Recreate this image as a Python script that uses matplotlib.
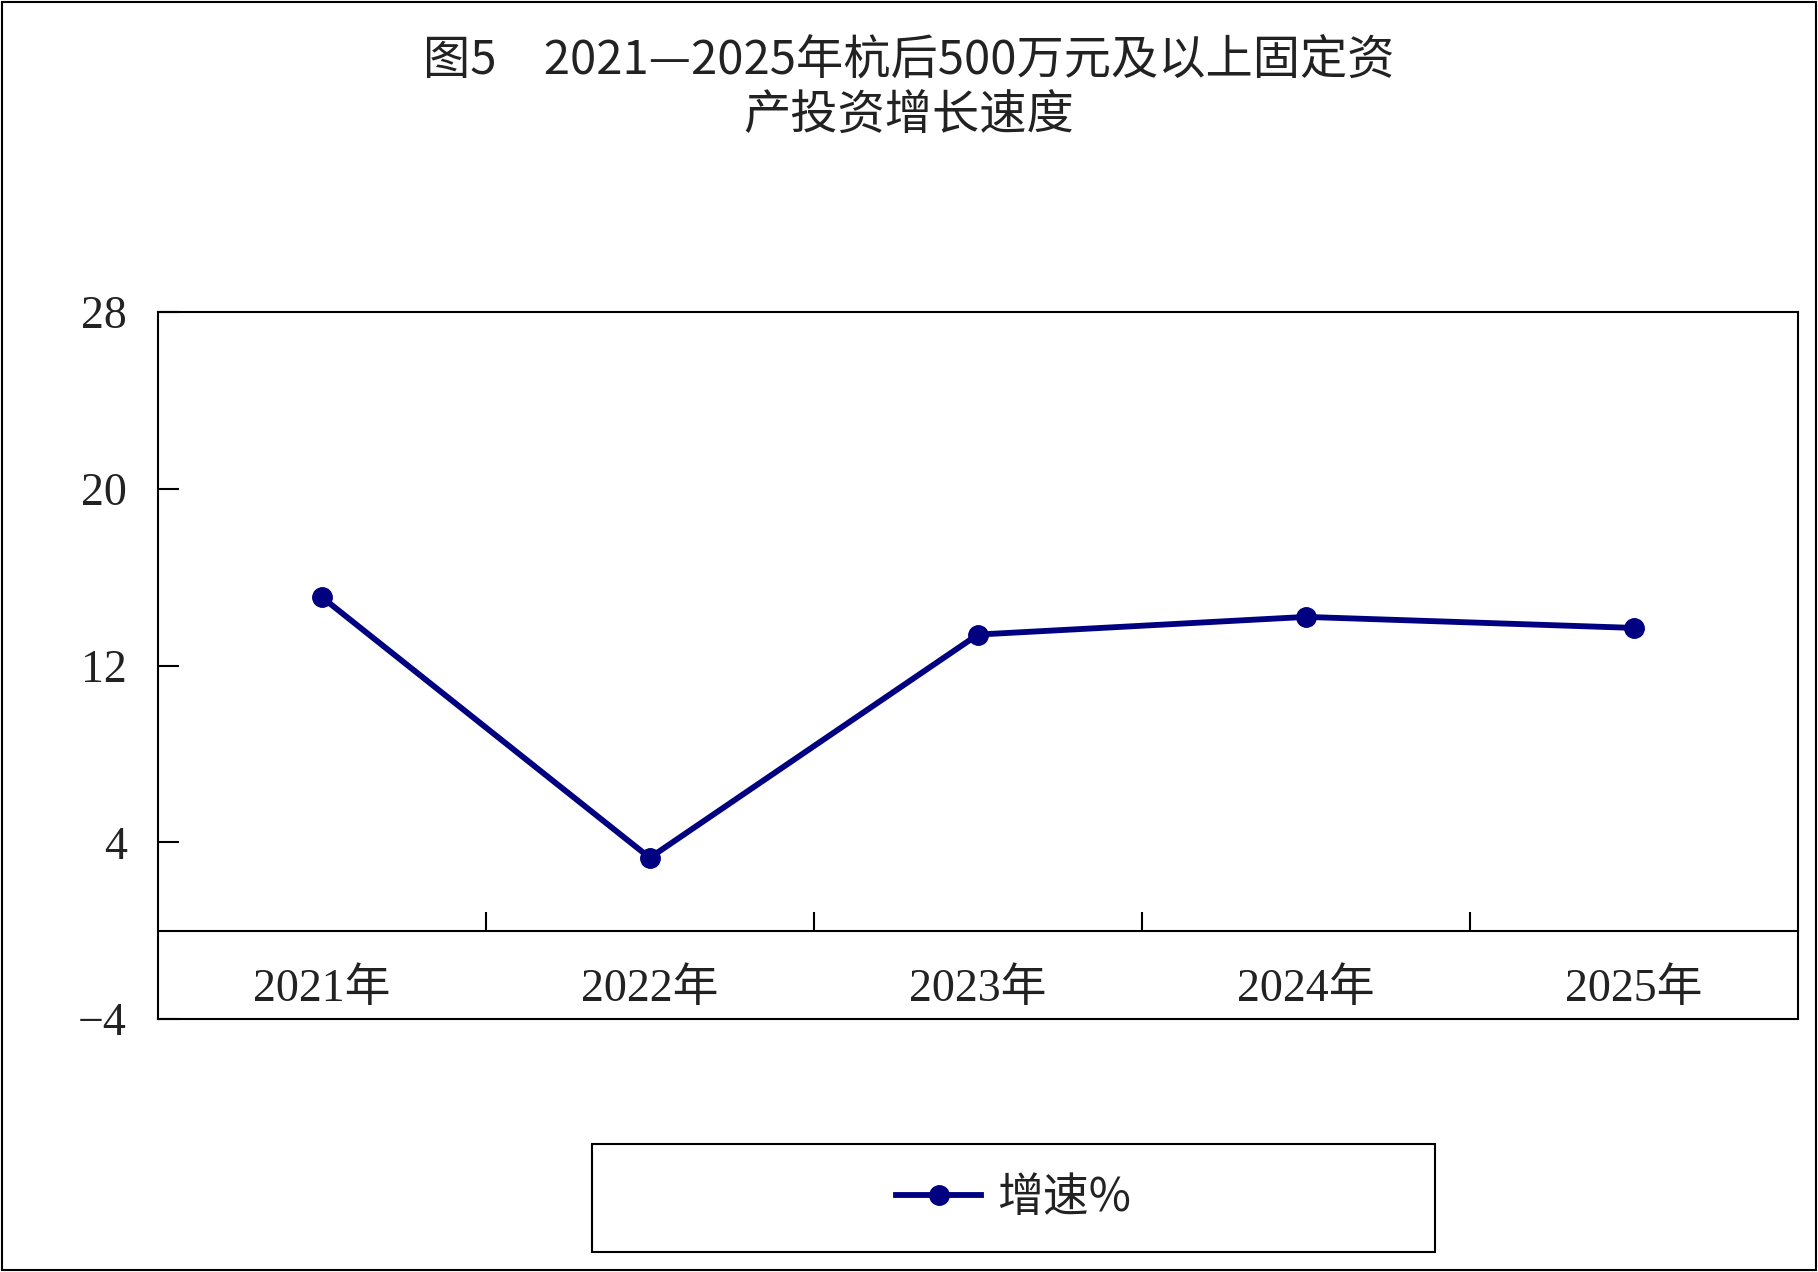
import matplotlib
matplotlib.use("Agg")
import matplotlib.pyplot as plt
from matplotlib.patches import Rectangle

plt.rcParams['font.family'] = ['Liberation Serif', 'Noto Sans CJK SC', 'DejaVu Sans']

categories = ["2021年", "2022年", "2023年", "2024年", "2025年"]
growth = [15.1, 3.3, 13.4, 14.2, 13.7]
yticks = [-4, 4, 12, 20, 28]
series_name = "增速%"
title1 = "图5　2021—2025年杭后500万元及以上固定资"
title2 = "产投资增长速度"

navy = "#000080"
txt = "#222222"
FS = 33

fig = plt.figure(figsize=(18.18, 12.72), dpi=100)
ax = fig.add_axes([0.0867, 0.1988, 0.9891 - 0.0867, 0.7548 - 0.1988])

x = list(range(len(categories)))
line, = ax.plot(x, growth, color=navy, lw=4.2, marker='o', ms=14,
                markerfacecolor=navy, markeredgecolor=navy, label=series_name,
                solid_joinstyle='round')

ax.set_xlim(-0.5, len(categories) - 0.5)
ax.set_ylim(yticks[0], yticks[-1])
ax.set_yticks(yticks)
ax.set_yticklabels([str(v).replace('-', '−') for v in yticks])
ax.tick_params(axis='y', direction='in', length=15, width=1.5, pad=22,
               labelsize=FS, labelcolor=txt)
ax.tick_params(axis='x', bottom=False, labelbottom=False)
for s in ax.spines.values():
    s.set_linewidth(1.5)
    s.set_color('black')

# zero line axis with category labels
loc0 = (0 - yticks[0]) / (yticks[-1] - yticks[0])
sec = ax.secondary_xaxis(loc0)
sec.spines['bottom'].set_linewidth(1.5)
sec.set_xticks(x)
sec.set_xticklabels(categories)
sec.set_xticks([i + 0.5 for i in x[:-1]], minor=True)
sec.tick_params(which='major', length=0, pad=27, labelsize=FS, labelcolor=txt)
sec.tick_params(which='minor', direction='in', length=14, width=1.5)

# title
fig.text(0.5, 0.953, title1, ha='center', va='center', fontsize=34,
         color=txt, family=['Noto Sans CJK SC', 'DejaVu Sans'])
fig.text(0.5, 0.908, title2, ha='center', va='center', fontsize=34,
         color=txt, family=['Noto Sans CJK SC', 'DejaVu Sans'])

# legend box
bx0, bx1, by0, by1 = 0.3257, 0.7895, 0.0156, 0.1004
fig.patches.append(Rectangle((bx0, by0), bx1 - bx0, by1 - by0, transform=fig.transFigure,
                             fill=False, edgecolor='black', lw=1.5))
leg = fig.legend(handles=[line], loc='center', bbox_to_anchor=((bx0 + bx1) / 2, (by0 + by1) / 2),
                 frameon=False, handlelength=1.85, handletextpad=0.35,
                 prop={'family': ['Noto Sans CJK SC', 'DejaVu Sans'], 'size': FS})
for t in leg.get_texts():
    t.set_color(txt)

# outer border
fig.patches.append(Rectangle((0.0012, 0.0017), 0.9976, 0.9966, transform=fig.transFigure,
                             fill=False, edgecolor='black', lw=1.5))

fig.savefig("out.png", dpi=100, facecolor='white')
